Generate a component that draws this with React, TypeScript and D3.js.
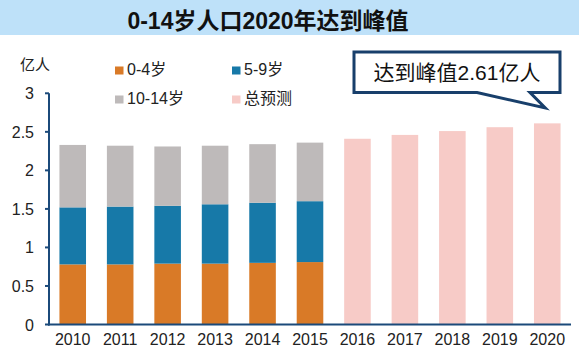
import React from "react";
import * as d3 from "d3";

const years = ["2010","2011","2012","2013","2014","2015","2016","2017","2018","2019","2020"];
const histYears = ["2010","2011","2012","2013","2014","2015"];
const age0_4 = [0.78, 0.78, 0.79, 0.79, 0.80, 0.81];
const age5_9 = [0.74, 0.75, 0.75, 0.77, 0.78, 0.79];
const age10_14 = [0.81, 0.79, 0.77, 0.76, 0.76, 0.76];
const forecastYears = ["2016","2017","2018","2019","2020"];
const forecastTotal = [2.41, 2.46, 2.51, 2.56, 2.61];
const yTicks = [0, 0.5, 1, 1.5, 2, 2.5, 3];
const seriesNames = ["0-4岁", "5-9岁", "10-14岁", "总预测"];
const colors = ["#D97A27", "#1779A8", "#BEBABA", "#F7CBC7"];

const W = 579, H = 355;
const FONT = "Arial, 'Liberation Sans', 'Noto Sans CJK SC', sans-serif";

export default function App() {
  const x = d3.scaleBand<string>().domain(years).range([49, 571]).paddingInner(0.44).paddingOuter(0.22);
  const y = d3.scaleLinear().domain([0, 3]).range([324.5, 93.3]);
  const stackData = histYears.map((yr, i) => ({ year: yr, a: age0_4[i], b: age5_9[i], c: age10_14[i] }));
  const stack = d3.stack<any>().keys(["a", "b", "c"])(stackData);
  const axisColor = "#1B4A7A";
  const navy = "#183F6B";

  // callout
  const bx0 = 354, bx1 = 560, by0 = 52, by1 = 92.5;
  const tailA = 477, tailB = 530, tipX = x("2020")! + x.bandwidth() / 2 - 2, tipY = 108;
  const calloutPath = `M${bx0},${by0} L${bx1},${by0} L${bx1},${by1} L${tailB},${by1} L${tipX},${tipY} L${tailA},${by1} L${bx0},${by1} Z`;

  return (
    <svg width={W} height={H} style={{ position: "absolute", left: 0, top: 0, background: "#fff" }} fontFamily={FONT}>
      <rect x={0} y={0} width={W} height={35} fill="#BEE1F9" />
      <text x={268} y={29} textAnchor="middle" fontSize={23} fontWeight="bold" fill="#111">0-14岁人口2020年达到峰值</text>

      {/* forecast bars */}
      {forecastYears.map((yr, i) => (
        <rect key={yr} x={x(yr)} y={y(forecastTotal[i])} width={x.bandwidth()} height={y(0) - y(forecastTotal[i])} fill={colors[3]} />
      ))}
      {/* stacked bars */}
      {stack.map((s, si) => s.map((d, i) => (
        <rect key={si + "-" + i} x={x(histYears[i])} y={y(d[1])} width={x.bandwidth()} height={y(d[0]) - y(d[1])} fill={colors[si]} />
      )))}

      {/* axes */}
      <line x1={49} x2={49} y1={y(3)} y2={y(0) + 1} stroke={axisColor} strokeWidth={2} />
      <line x1={48} x2={571} y1={y(0)} y2={y(0)} stroke={axisColor} strokeWidth={2} />
      {yTicks.map(t => (
        <g key={t}>
          <line x1={45} x2={49} y1={y(t)} y2={y(t)} stroke={axisColor} strokeWidth={2} />
          <text x={34} y={y(t) + 6} textAnchor="end" fontSize={16} fill="#222">{t}</text>
        </g>
      ))}
      {years.map(yr => (
        <text key={yr} x={x(yr)! + x.bandwidth() / 2} y={345} textAnchor="middle" fontSize={16} fill="#222">{yr}</text>
      ))}
      <text x={20} y={70} fontSize={15} fill="#222">亿人</text>

      {/* legend */}
      {seriesNames.map((n, i) => {
        const lx = i % 2 === 0 ? 115 : 232;
        const ly = i < 2 ? 75 : 104;
        return (
          <g key={n}>
            <rect x={lx} y={ly - 8.5} width={8.5} height={8} fill={colors[i]} />
            <text x={lx + 12} y={ly} fontSize={16} fill="#222">{n}</text>
          </g>
        );
      })}

      {/* callout */}
      <path d={calloutPath} fill="#fff" stroke={navy} strokeWidth={3} strokeLinejoin="miter" />
      <text x={457} y={80} textAnchor="middle" fontSize={21} fill="#111">达到峰值2.61亿人</text>
    </svg>
  );
}
